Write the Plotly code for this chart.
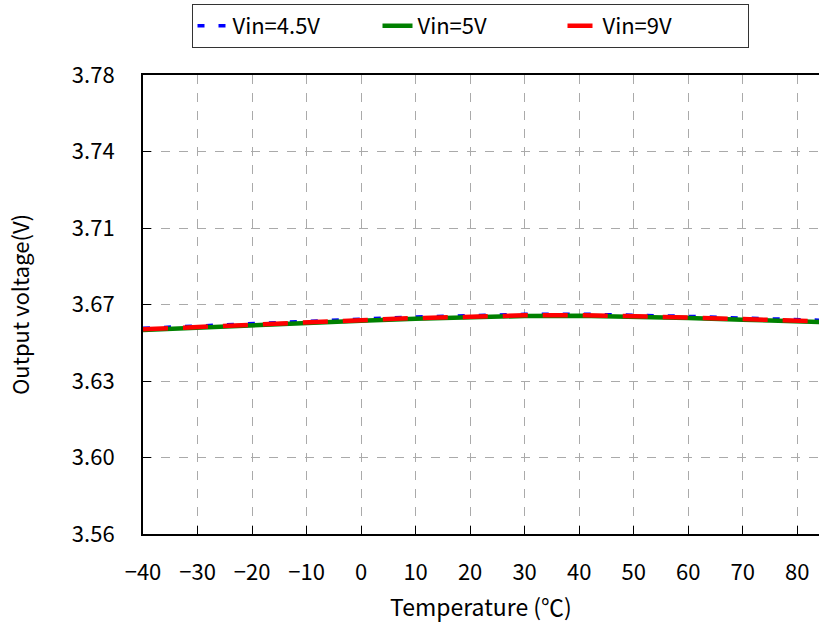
import plotly.graph_objects as go
import numpy as np

temperature = [-40, -30, -20, -10, 0, 10, 20, 30, 40, 50, 60, 70, 80, 85]
vin_4p5 = [3.6586, 3.6598, 3.6609, 3.6620, 3.6630, 3.6640, 3.6648, 3.6653, 3.6654, 3.6650, 3.6643, 3.6635, 3.6628, 3.6624]
vin_5 = [3.6578, 3.6590, 3.6601, 3.6612, 3.6622, 3.6632, 3.6640, 3.6645, 3.6646, 3.6642, 3.6635, 3.6627, 3.6620, 3.6616]
vin_9 = [3.6581, 3.6593, 3.6604, 3.6615, 3.6625, 3.6635, 3.6643, 3.6648, 3.6649, 3.6645, 3.6638, 3.6630, 3.6623, 3.6619]

x_ticks = [-40, -30, -20, -10, 0, 10, 20, 30, 40, 50, 60, 70, 80]
y_tick_text = ["3.56", "3.60", "3.63", "3.67", "3.71", "3.74", "3.78"]
y_min, y_max = 3.56, 3.78
y_tick_vals = list(np.linspace(y_min, y_max, len(y_tick_text)))

font = "Noto Sans CJK JP, Noto Sans, sans-serif"

fig = go.Figure()
fig.add_trace(go.Scatter(x=temperature, y=vin_4p5, mode="lines", name="Vin=4.5V",
                         line=dict(color="#0000ff", width=3.5, dash="7px,14px")))
fig.add_trace(go.Scatter(x=temperature, y=vin_5, mode="lines", name="Vin=5V",
                         line=dict(color="#008000", width=4.5)))
fig.add_trace(go.Scatter(x=temperature, y=vin_9, mode="lines", name="Vin=9V",
                         line=dict(color="#ff0000", width=4.5, dash="25px,15px")))

fig.update_layout(
    width=819, height=628,
    margin=dict(l=143, r=0, t=75, b=94),
    paper_bgcolor="white", plot_bgcolor="white",
    font=dict(family=font, size=22, color="black"),
    showlegend=True,
    legend=dict(orientation="h", x=(470 - 143) / (819 - 143), xref="paper", xanchor="center",
                y=1.155, yanchor="top", bordercolor="#333333", borderwidth=1,
                font=dict(size=22), bgcolor="white", entrywidth=140,
                tracegroupgap=0),
)
fig.update_xaxes(
    range=[-40, 84], tickvals=x_ticks, ticks="inside", ticklen=8, tickcolor="black",
    showline=True, linecolor="black", linewidth=2, mirror=True,
    showgrid=True, gridcolor="#aaaaaa", griddash="dash", gridwidth=1,
    zeroline=False, ticklabelstandoff=18,
    tickfont=dict(size=22),
    title=dict(text="Temperature (℃)", font=dict(size=23), standoff=14),
)
fig.update_yaxes(
    range=[y_min, y_max], tickvals=y_tick_vals, ticktext=y_tick_text,
    ticks="inside", ticklen=8, tickcolor="black",
    showline=True, linecolor="black", linewidth=2,
    showgrid=True, gridcolor="#aaaaaa", griddash="dash", gridwidth=1,
    zeroline=False, ticklabelstandoff=22,
    tickfont=dict(size=22),
    title=dict(text="Output voltage(V)", font=dict(size=22), standoff=36),
)

fig.write_html("out.html")
